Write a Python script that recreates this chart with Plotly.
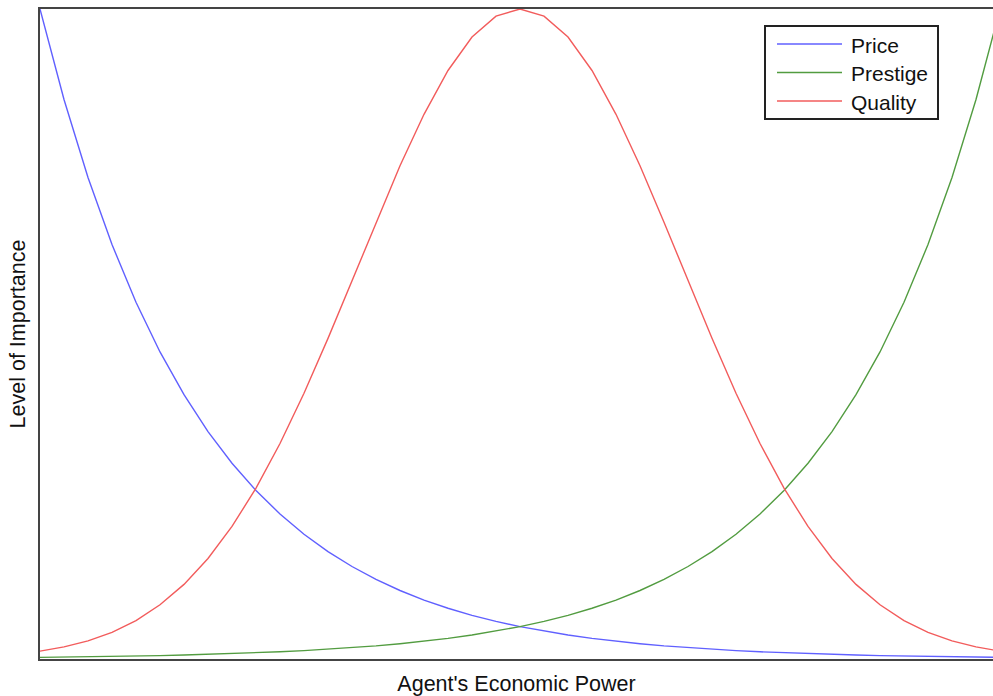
import plotly.graph_objects as go

# Agent's economic power (normalised 0..1)
power = [i * 0.025 for i in range(41)]

price = [1.0, 0.8607, 0.7408, 0.6376, 0.5488, 0.4724, 0.4066, 0.3499, 0.3012, 0.2592,
         0.2231, 0.1920, 0.1653, 0.1423, 0.1225, 0.1054, 0.0907, 0.0781, 0.0672, 0.0578,
         0.0498, 0.0429, 0.0369, 0.0317, 0.0273, 0.0235, 0.0202, 0.0174, 0.0150, 0.0129,
         0.0111, 0.0096, 0.0082, 0.0071, 0.0061, 0.0052, 0.0045, 0.0039, 0.0033, 0.0029,
         0.0025]

prestige = [0.0025, 0.0029, 0.0033, 0.0039, 0.0045, 0.0052, 0.0061, 0.0071, 0.0082, 0.0096,
            0.0111, 0.0129, 0.0150, 0.0174, 0.0202, 0.0235, 0.0273, 0.0317, 0.0369, 0.0429,
            0.0498, 0.0578, 0.0672, 0.0781, 0.0907, 0.1054, 0.1225, 0.1423, 0.1653, 0.1920,
            0.2231, 0.2592, 0.3012, 0.3499, 0.4066, 0.4724, 0.5488, 0.6376, 0.7408, 0.8607,
            1.0]

quality = [0.0121, 0.0186, 0.0279, 0.0411, 0.0592, 0.0834, 0.1148, 0.1547, 0.2039, 0.2629,
           0.3315, 0.4088, 0.4933, 0.5821, 0.6720, 0.7588, 0.8380, 0.9054, 0.9568, 0.9890,
           1.0, 0.9890, 0.9568, 0.9054, 0.8380, 0.7588, 0.6720, 0.5821, 0.4933, 0.4088,
           0.3315, 0.2629, 0.2039, 0.1547, 0.1148, 0.0834, 0.0592, 0.0411, 0.0279, 0.0186,
           0.0121]

names = ["Price", "Prestige", "Quality"]
colors = ["#6060ff", "#529c40", "#f25c5c"]
series = [price, prestige, quality]

W, H = 993, 696
L, R, T, B = 40, 0, 9, 37
FONT = "Liberation Sans, Arial, sans-serif"

fig = go.Figure()
for name, col, ys in zip(names, colors, series):
    fig.add_trace(go.Scatter(x=power, y=ys, mode="lines", name=name,
                             line=dict(color=col, width=1.4), showlegend=False))

# Manual legend (box, sample lines, labels) in paper coordinates
pw, ph = W - L - R, H - T - B
def px(x): return (x - L) / pw
def py(y): return (H - B - y) / ph

fig.add_shape(type="rect", xref="paper", yref="paper",
              x0=px(765), x1=px(938), y0=py(119), y1=py(26),
              line=dict(color="#222", width=2), fillcolor="white", layer="above")
for i, (name, col) in enumerate(zip(names, colors)):
    yl = 44 + i * 28.5
    fig.add_shape(type="line", xref="paper", yref="paper",
                  x0=px(777), x1=px(842), y0=py(yl), y1=py(yl),
                  line=dict(color=col, width=1.4), layer="above")
    fig.add_annotation(xref="paper", yref="paper", x=px(849), y=py(yl + 1.5),
                       text=name, showarrow=False, xanchor="left", yanchor="middle",
                       font=dict(family=FONT, size=21, color="#111"))

fig.update_layout(
    width=W, height=H,
    margin=dict(l=L, r=R, t=T, b=B),
    paper_bgcolor="white", plot_bgcolor="white",
    font=dict(family=FONT, size=21, color="#111"),
    showlegend=False,
    xaxis=dict(range=[0, 953 / 960], showgrid=False, zeroline=False,
               showticklabels=False, ticks="", showline=True, mirror=True,
               linecolor="#444", linewidth=2,
               title=dict(text="Agent's Economic Power", standoff=16,
                          font=dict(family=FONT, size=21.5, color="#111"))),
    yaxis=dict(range=[0, 1], showgrid=False, zeroline=False,
               showticklabels=False, ticks="", showline=True, mirror=False,
               linecolor="#444", linewidth=2,
               title=dict(text="Level of Importance", standoff=6,
                          font=dict(family=FONT, size=21.5, color="#111"))),
)

fig.write_html("out.html", config={"displayModeBar": False},
               post_script="document.body.style.margin='0';document.body.style.overflow='hidden';")
